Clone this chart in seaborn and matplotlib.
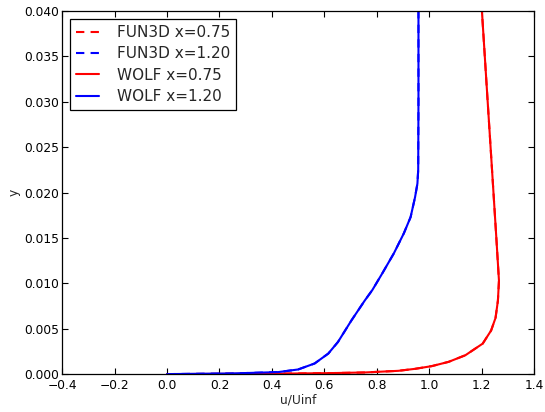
import numpy as np
import pandas as pd
import matplotlib
matplotlib.use("Agg")
import matplotlib.pyplot as plt
import seaborn as sns

# velocity profiles u/Uinf vs y
y_075 = [0.0, 0.00004, 0.00011, 0.00018, 0.00036, 0.00058, 0.00088, 0.00135,
         0.00208, 0.00336, 0.0048, 0.0062, 0.0081, 0.0103, 0.0150, 0.0214,
         0.0300, 0.0400]
u_075 = [0.0, 0.396, 0.626, 0.754, 0.882, 0.946, 1.010, 1.074,
         1.138, 1.204, 1.236, 1.253, 1.262, 1.266, 1.256, 1.242,
         1.223, 1.201]

y_120 = [0.0, 0.00007, 0.00022, 0.00051, 0.00117, 0.00226, 0.00354, 0.0059,
         0.0081, 0.00926, 0.0111, 0.0133, 0.0155, 0.0173, 0.0195, 0.0210,
         0.0225, 0.0300, 0.0400]
u_120 = [0.0, 0.245, 0.424, 0.500, 0.563, 0.615, 0.652, 0.703,
         0.754, 0.783, 0.821, 0.865, 0.903, 0.929, 0.946, 0.955,
         0.958, 0.959, 0.959]

# FUN3D and WOLF agree to within the line width
fun3d_y_075, fun3d_u_075 = y_075, u_075
fun3d_y_120, fun3d_u_120 = y_120, u_120

series = [
    ("FUN3D x=0.75", fun3d_u_075, fun3d_y_075, "red", (0, (4, 3))),
    ("FUN3D x=1.20", fun3d_u_120, fun3d_y_120, "blue", (0, (4, 3))),
    ("WOLF x=0.75", u_075, y_075, "red", "-"),
    ("WOLF x=1.20", u_120, y_120, "blue", "-"),
]

sns.set_style("ticks")
plt.rcParams["font.family"] = ["DejaVu Sans"]
plt.rcParams["xtick.direction"] = "in"
plt.rcParams["ytick.direction"] = "in"

fig = plt.figure(figsize=(5.45, 4.12), dpi=100)
ax = fig.add_axes([0.114, 0.092, 0.866, 0.881])

for name, u, y, color, ls in series:
    df = pd.DataFrame({"u": u, "y": y})
    sns.lineplot(data=df, x="u", y="y", sort=False, estimator=None, ax=ax,
                 color=color, linestyle=ls, linewidth=1.5, label=name)

ax.set_xlim(-0.4, 1.4)
ax.set_ylim(0.0, 0.04)
ax.set_xticks(np.arange(-0.4, 1.41, 0.2))
ax.set_yticks(np.arange(0.0, 0.0401, 0.005))
ax.set_xticklabels([f"{v:.1f}".replace("-", "\u2212") for v in np.arange(-0.4, 1.41, 0.2)])
ax.set_yticklabels([f"{v:.3f}" for v in np.arange(0.0, 0.0401, 0.005)])
ax.tick_params(axis="both", which="major", labelsize=8.8, length=4, width=0.8,
               top=True, right=True, direction="in", colors="black", pad=2)
ax.tick_params(axis="x", pad=3.5)
for sp in ax.spines.values():
    sp.set_color("black")
    sp.set_linewidth(0.9)

ax.set_xlabel("u/Uinf", fontsize=8.8, labelpad=1)
ax.set_ylabel("y", fontsize=8.8, labelpad=3)

leg = ax.legend(loc="upper left", fontsize=11, fancybox=False, framealpha=1,
                edgecolor="black", handlelength=1.5, handletextpad=1.2,
                labelspacing=0.42, borderpad=0.4, borderaxespad=0.5)
leg.get_frame().set_linewidth(0.9)

fig.savefig("out.png", dpi=100)
